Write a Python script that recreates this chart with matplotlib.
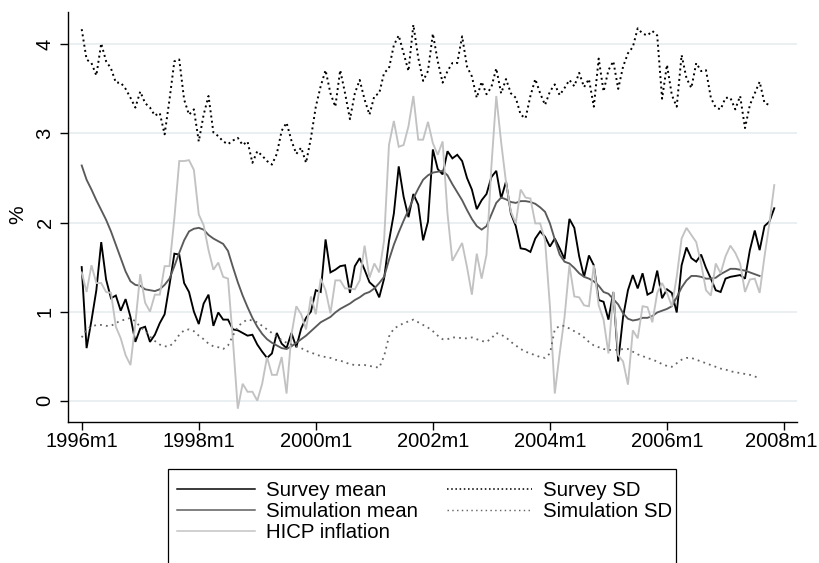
import numpy as np
import matplotlib
matplotlib.use("Agg")
import matplotlib.pyplot as plt
import matplotlib.transforms as mtransforms
from matplotlib.lines import Line2D
from matplotlib.patches import Rectangle

# ---------------- data (monthly, starting 1996m1) ----------------
survey_mean = [
    1.50, 0.59, 0.90, 1.24, 1.78, 1.36, 1.15, 1.18, 1.01, 1.14,
    0.94, 0.66, 0.81, 0.83, 0.66, 0.74, 0.87, 0.97, 1.30, 1.65,
    1.64, 1.32, 1.22, 1.00, 0.86, 1.09, 1.19, 0.84, 0.99, 0.91,
    0.91, 0.80, 0.79, 0.76, 0.73, 0.74, 0.63, 0.55, 0.48, 0.53,
    0.76, 0.64, 0.59, 0.76, 0.60, 0.81, 0.93, 1.00, 1.24, 1.22,
    1.81, 1.44, 1.47, 1.51, 1.52, 1.21, 1.51, 1.60, 1.47, 1.33,
    1.28, 1.16, 1.37, 1.79, 2.10, 2.63, 2.29, 2.06, 2.32, 2.20,
    1.80, 2.01, 2.82, 2.60, 2.54, 2.80, 2.72, 2.76, 2.69, 2.50,
    2.37, 2.15, 2.25, 2.32, 2.51, 2.58, 2.27, 2.46, 2.10, 1.96,
    1.71, 1.70, 1.67, 1.82, 1.90, 1.84, 1.73, 1.82, 1.71, 1.59,
    2.04, 1.94, 1.62, 1.39, 1.63, 1.52, 1.13, 1.11, 0.91, 1.22,
    0.44, 0.94, 1.24, 1.41, 1.26, 1.43, 1.19, 1.22, 1.46, 1.15,
    1.25, 1.21, 0.99, 1.52, 1.72, 1.60, 1.56, 1.64, 1.49, 1.37,
    1.24, 1.22, 1.37, 1.39, 1.40, 1.41, 1.37, 1.69, 1.91, 1.69,
    1.96, 2.01, 2.16,
]

simulation_mean = [
    2.64, 2.48, 2.37, 2.25, 2.14, 2.03, 1.90, 1.75, 1.60, 1.45,
    1.34, 1.30, 1.29, 1.25, 1.24, 1.23, 1.25, 1.30, 1.37, 1.51,
    1.66, 1.80, 1.90, 1.93, 1.94, 1.92, 1.86, 1.82, 1.79, 1.76,
    1.68, 1.50, 1.33, 1.18, 1.05, 0.93, 0.83, 0.75, 0.69, 0.65,
    0.62, 0.59, 0.58, 0.61, 0.65, 0.69, 0.73, 0.78, 0.83, 0.88,
    0.91, 0.94, 0.99, 1.03, 1.06, 1.09, 1.13, 1.16, 1.20, 1.22,
    1.26, 1.32, 1.39, 1.58, 1.75, 1.89, 2.02, 2.14, 2.27, 2.38,
    2.48, 2.53, 2.56, 2.57, 2.58, 2.53, 2.43, 2.34, 2.25, 2.14,
    2.04, 1.96, 1.92, 1.96, 2.09, 2.22, 2.28, 2.26, 2.23, 2.22,
    2.24, 2.24, 2.23, 2.21, 2.17, 2.12, 1.99, 1.81, 1.64, 1.56,
    1.54, 1.49, 1.43, 1.39, 1.37, 1.34, 1.29, 1.22, 1.20, 1.14,
    1.08, 0.98, 0.92, 0.90, 0.91, 0.93, 0.93, 0.95, 0.99, 1.01,
    1.03, 1.06, 1.16, 1.27, 1.35, 1.40, 1.40, 1.39, 1.37, 1.37,
    1.38, 1.42, 1.45, 1.48, 1.48, 1.47, 1.46, 1.44, 1.42, 1.40,
]

hicp_inflation = [
    1.44, 1.22, 1.52, 1.32, 1.32, 1.22, 1.21, 0.83, 0.70, 0.51,
    0.40, 0.87, 1.42, 1.10, 1.00, 1.19, 1.19, 1.51, 1.51, 2.05,
    2.69, 2.69, 2.70, 2.59, 2.09, 1.97, 1.69, 1.47, 1.55, 1.39,
    1.37, 0.68, -0.09, 0.19, 0.10, 0.10, 0.00, 0.19, 0.49, 0.29,
    0.29, 0.49, 0.08, 0.74, 1.06, 0.97, 0.80, 1.17, 0.97, 1.37,
    1.24, 0.98, 1.35, 1.35, 1.26, 1.26, 1.25, 1.35, 1.74, 1.38,
    1.54, 1.44, 1.80, 2.87, 3.14, 2.85, 2.87, 3.08, 3.42, 2.93,
    2.93, 3.13, 2.89, 2.76, 2.91, 2.10, 1.57, 1.67, 1.77, 1.50,
    1.19, 1.65, 1.37, 1.64, 2.63, 3.42, 2.90, 2.45, 2.12, 1.99,
    2.37, 2.28, 2.27, 1.99, 1.99, 1.80, 1.06, 0.08, 0.53, 0.94,
    1.52, 1.17, 1.16, 1.07, 1.06, 1.52, 1.07, 0.91, 0.53, 1.22,
    0.51, 0.44, 0.18, 0.79, 0.70, 1.06, 1.05, 0.88, 1.21, 1.32,
    1.21, 1.06, 1.39, 1.82, 1.94, 1.86, 1.78, 1.54, 1.24, 1.18,
    1.54, 1.43, 1.62, 1.74, 1.66, 1.54, 1.22, 1.36, 1.37, 1.21,
    1.62, 1.99, 2.42,
]

survey_sd = [
    4.17, 3.83, 3.79, 3.65, 4.01, 3.81, 3.73, 3.57, 3.57, 3.50,
    3.40, 3.29, 3.47, 3.34, 3.29, 3.20, 3.23, 2.99, 3.38, 3.81,
    3.83, 3.38, 3.21, 3.27, 2.91, 3.21, 3.42, 3.01, 2.97, 2.91,
    2.88, 2.92, 2.95, 2.87, 2.91, 2.67, 2.80, 2.75, 2.69, 2.65,
    2.77, 3.03, 3.12, 2.92, 2.77, 2.84, 2.67, 2.95, 3.30, 3.53,
    3.71, 3.45, 3.30, 3.71, 3.45, 3.16, 3.45, 3.60, 3.38, 3.21,
    3.42, 3.45, 3.68, 3.73, 3.99, 4.10, 3.90, 3.70, 4.22, 3.85,
    3.59, 3.70, 4.12, 3.81, 3.57, 3.70, 3.79, 3.79, 4.09, 3.75,
    3.64, 3.40, 3.58, 3.44, 3.52, 3.73, 3.45, 3.61, 3.45, 3.40,
    3.21, 3.17, 3.42, 3.61, 3.45, 3.32, 3.47, 3.55, 3.43, 3.51,
    3.60, 3.53, 3.68, 3.52, 3.61, 3.30, 3.84, 3.47, 3.71, 3.81,
    3.50, 3.75, 3.90, 3.97, 4.18, 4.12, 4.10, 4.15, 4.10, 3.39,
    3.77, 3.43, 3.30, 3.88, 3.62, 3.51, 3.79, 3.70, 3.71, 3.40,
    3.29, 3.27, 3.40, 3.40, 3.27, 3.42, 3.06, 3.32, 3.45, 3.58,
    3.34, 3.32,
]

simulation_sd = [
    0.71, 0.80, 0.83, 0.85, 0.85, 0.84, 0.84, 0.87, 0.90, 0.91,
    0.93, 0.89, 0.83, 0.78, 0.72, 0.67, 0.63, 0.61, 0.61, 0.66,
    0.74, 0.79, 0.80, 0.78, 0.73, 0.69, 0.64, 0.61, 0.60, 0.58,
    0.62, 0.73, 0.83, 0.88, 0.91, 0.90, 0.88, 0.84, 0.80, 0.76,
    0.72, 0.68, 0.65, 0.63, 0.61, 0.59, 0.56, 0.54, 0.52, 0.50,
    0.49, 0.48, 0.46, 0.45, 0.43, 0.41, 0.40, 0.40, 0.40, 0.39,
    0.38, 0.37, 0.50, 0.72, 0.81, 0.84, 0.87, 0.89, 0.91, 0.88,
    0.85, 0.82, 0.78, 0.73, 0.69, 0.69, 0.71, 0.71, 0.70, 0.70,
    0.71, 0.69, 0.67, 0.66, 0.70, 0.76, 0.74, 0.71, 0.66, 0.62,
    0.58, 0.55, 0.53, 0.51, 0.49, 0.48, 0.53, 0.80, 0.84, 0.84,
    0.81, 0.78, 0.75, 0.71, 0.66, 0.62, 0.60, 0.58, 0.57, 0.57,
    0.57, 0.58, 0.58, 0.55, 0.52, 0.50, 0.48, 0.46, 0.44, 0.41,
    0.39, 0.38, 0.42, 0.46, 0.48, 0.48, 0.46, 0.44, 0.42, 0.40,
    0.38, 0.36, 0.35, 0.33, 0.32, 0.31, 0.30, 0.29, 0.27, 0.26,
]

tick_months = [0, 24, 48, 72, 96, 120, 144]
tick_labels = ["1996m1", "1998m1", "2000m1", "2002m1", "2004m1", "2006m1", "2008m1"]
y_ticks = [0, 1, 2, 3, 4]
legend_labels = ["Survey mean", "Simulation mean", "HICP inflation",
                 "Survey SD", "Simulation SD"]

# ---------------- figure ----------------
plt.rcParams['font.family'] = ['Liberation Sans', 'DejaVu Sans']
FS = 15
LFS = 14.7
TFS = 14.5

W, H = 820, 563
fig = plt.figure(figsize=(W / 100, H / 100), dpi=100)
fig.patch.set_facecolor('white')
ax = fig.add_axes([68.3 / W, 1 - 421.7 / H, (796.7 - 68.3) / W, (421.7 - 12) / H])

ax.set_xlim(-2.75, 146.6)
ax.set_ylim(-0.236, 4.363)

for yv in y_ticks:
    ax.axhline(yv, color='#e4ecee', lw=1.1, zorder=0)

styles = [
    dict(color='black', lw=1.35, ls='-'),
    dict(color='#5a5a5a', lw=1.35, ls='-'),
    dict(color='#c2c2c2', lw=1.35, ls='-'),
    dict(color='black', lw=1.4, ls=(0, (1.0, 1.7))),
    dict(color='#666666', lw=1.3, ls=(0, (1.0, 2.3))),
]
series = [survey_mean, simulation_mean, hicp_inflation, survey_sd, simulation_sd]

handles = []
for s, st in zip(series, styles):
    x = np.arange(len(s))
    ax.plot(x, s, color=st['color'], lw=st['lw'], linestyle=st['ls'],
            solid_joinstyle='miter', zorder=3)
    handles.append(Line2D([], [], color=st['color'], lw=st['lw'] * 0.8,
                          linestyle=st['ls']))

for side in ['top', 'right']:
    ax.spines[side].set_visible(False)
for side in ['left', 'bottom']:
    ax.spines[side].set_linewidth(1.0)
    ax.spines[side].set_color('black')

ax.set_xticks(tick_months)
ax.set_xticklabels(tick_labels, fontsize=TFS)
ax.set_yticks(y_ticks)
ax.set_yticklabels([str(v) for v in y_ticks], fontsize=TFS, rotation=90, va='center')
ax.tick_params(axis='both', direction='out', length=5.8, width=1.0, color='black')
ax.tick_params(axis='x', pad=1.5)
ax.tick_params(axis='y', pad=4)

# keep the last x label inside the canvas
last = ax.get_xticklabels()[-1]
last.set_transform(last.get_transform() +
                   mtransforms.ScaledTranslation(-3 / 100, 0, fig.dpi_scale_trans))

fig.text(18 / W, 1 - 215 / H, '%', fontsize=FS, rotation=90, ha='center', va='center')

# legend frame (extends past the bottom edge, as in the reference)
fig.patches.append(Rectangle((168.3 / W, 1 - 590 / H), (676 - 168.3) / W, (590 - 469) / H,
                             transform=fig.transFigure, fill=False,
                             edgecolor='black', lw=0.9))

common = dict(loc='upper left', bbox_transform=fig.transFigure, ncol=1,
              fontsize=LFS, frameon=False, handletextpad=0.5,
              labelspacing=0.08, borderpad=0, borderaxespad=0)
leg1 = fig.legend(handles[:3], legend_labels[:3], handlelength=3.85,
                  bbox_to_anchor=(176.7 / W, 1 - 481.5 / H), **common)
leg2 = fig.legend(handles[3:], legend_labels[3:], handlelength=4.2,
                  bbox_to_anchor=(446.7 / W, 1 - 481.5 / H), **common)

fig.savefig('out.png', dpi=100)
